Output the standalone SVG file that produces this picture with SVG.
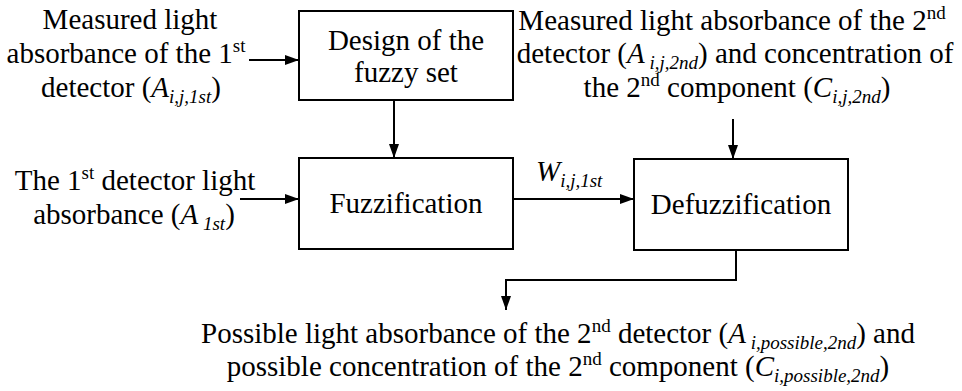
<svg xmlns="http://www.w3.org/2000/svg" width="962" height="391" viewBox="0 0 962 391">
<defs>
<marker id="ah" viewBox="0 0 14 10" refX="14" refY="5" markerWidth="14" markerHeight="10" markerUnits="userSpaceOnUse" orient="auto">
<path d="M0,0 L14,5 L0,10 Z" fill="#000"/>
</marker>
</defs>
<style>
.box{fill:#fff;stroke:#000;stroke-width:2}
.c{fill:none;stroke:#000;stroke-width:2;marker-end:url(#ah)}
</style>
<rect width="962" height="391" fill="#fff"/>
<g id="connectors">
<line class="c" x1="249" y1="60" x2="299" y2="60"/>
<line class="c" x1="394" y1="100" x2="394" y2="158"/>
<line class="c" x1="240" y1="199" x2="299" y2="199"/>
<line class="c" x1="513" y1="199" x2="634" y2="199"/>
<line class="c" x1="733" y1="119" x2="733" y2="159"/>
<path class="c" d="M736,250 V280 H506 V310"/>
</g>
<g font-family="Liberation Serif" font-size="29" fill="#000">
<text x="536" y="181" font-style="italic" font-family="Liberation Serif">W<tspan font-size="19" dy="6">i,j,1st</tspan></text>
<g id="design">
<rect class="box" x="299" y="11" width="214" height="89"/>
<text font-family="Liberation Serif" text-anchor="middle" x="406" y="50">Design of the</text>
<text font-family="Liberation Serif" text-anchor="middle" x="406" y="82">fuzzy set</text>
</g>
<g id="fuzzification">
<rect class="box" x="299" y="158" width="214" height="91"/>
<text font-family="Liberation Serif" text-anchor="middle" x="406" y="213">Fuzzification</text>
</g>
<g id="defuzzification">
<rect class="box" x="634" y="159" width="214" height="91"/>
<text font-family="Liberation Serif" text-anchor="middle" x="741" y="214">Defuzzification</text>
</g>
<g id="input-measured-1st" text-anchor="middle">
<text font-family="Liberation Serif" x="130" y="29">Measured light</text>
<text font-family="Liberation Serif" x="126" y="63">absorbance of the 1<tspan font-size="19" dy="-11">st</tspan></text>
<text font-family="Liberation Serif" x="131" y="97">detector  (<tspan font-style="italic">A</tspan><tspan font-style="italic" font-size="19" dy="6">i,j,1st</tspan><tspan dy="-6">)</tspan></text>
</g>
<g id="input-1st" text-anchor="middle">
<text font-family="Liberation Serif" x="135" y="190">The 1<tspan font-size="19" dy="-11">st</tspan><tspan dy="11"> detector light</tspan></text>
<text font-family="Liberation Serif" x="134" y="224">absorbance (<tspan font-style="italic">A</tspan><tspan font-style="italic" font-size="19" dy="6"> 1st</tspan><tspan dy="-6">)</tspan></text>
</g>
<g id="input-measured-2nd" text-anchor="middle">
<text font-family="Liberation Serif" x="732" y="30">Measured light absorbance of the 2<tspan font-size="19" dy="-11">nd</tspan></text>
<text font-family="Liberation Serif" x="735" y="63">detector (<tspan font-style="italic">A</tspan><tspan font-style="italic" font-size="19" dy="6"> i,j,2nd</tspan><tspan dy="-6">)  and concentration of</tspan></text>
<text font-family="Liberation Serif" x="737" y="97">the 2<tspan font-size="19" dy="-11">nd</tspan><tspan dy="11"> component (</tspan><tspan font-style="italic">C</tspan><tspan font-style="italic" font-size="19" dy="6">i,j,2nd</tspan><tspan dy="-6">)</tspan></text>
</g>
<g id="output" text-anchor="middle">
<text font-family="Liberation Serif" x="558" y="343">Possible light absorbance of the 2<tspan font-size="19" dy="-11">nd</tspan><tspan dy="11"> detector (</tspan><tspan font-style="italic">A</tspan><tspan font-style="italic" font-size="19" dy="6"> i,possible,2nd</tspan><tspan dy="-6">) and</tspan></text>
<text font-family="Liberation Serif" x="558" y="376">possible concentration of the 2<tspan font-size="19" dy="-11">nd</tspan><tspan dy="11"> component (</tspan><tspan font-style="italic">C</tspan><tspan font-style="italic" font-size="19" dy="6">i,possible,2nd</tspan><tspan dy="-6">)</tspan></text>
</g>
</g>
</svg>
